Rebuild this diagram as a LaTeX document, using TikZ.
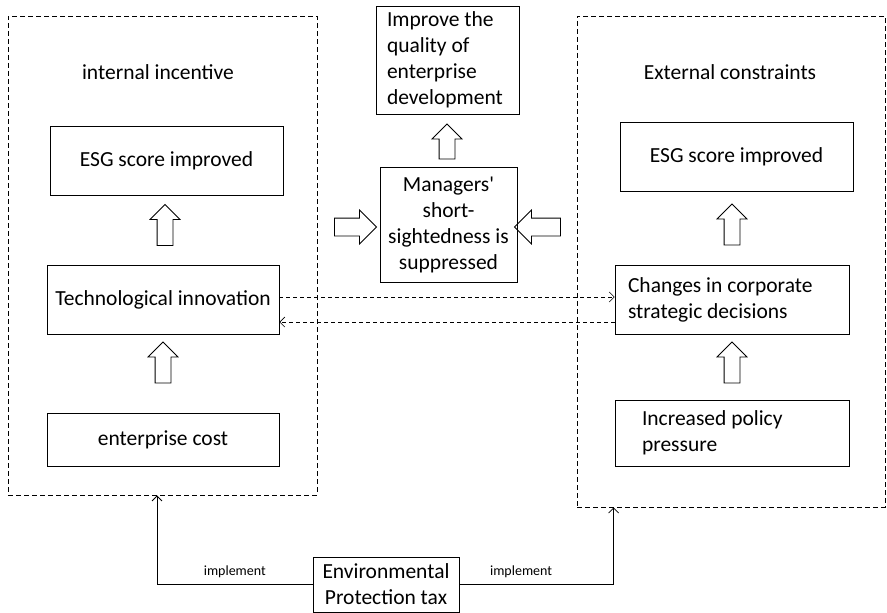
\documentclass[tikz,border=0pt]{standalone}
\usepackage{fontspec}
\setmainfont{Carlito}
\usepackage{tikz}
\usetikzlibrary{calc,positioning,shapes.arrows,arrows.meta}
\tikzset{
  box/.style={
    draw,
    rectangle,
    line width=0.8pt,
    inner sep=0pt,
    font=\fontsize{21.5}{26}\selectfont,
  },
  frame/.style={
    draw,
    rectangle,
    line width=0.8pt,
    dash pattern=on 5pt off 3pt,
    inner sep=0pt,
  },
  uparr/.style={
    single arrow,
    draw,
    line width=0.8pt,
    inner xsep=0pt,
    inner ysep=7.5pt,
    single arrow head extend=7pt,
    minimum height=41pt,
    rotate=90,
  },
  sidearr/.style={
    single arrow,
    draw,
    line width=0.8pt,
    inner xsep=0pt,
    inner ysep=8.5pt,
    single arrow head extend=8pt,
    minimum height=44pt,
  },
  dashlink/.style={line width=0.6pt, dash pattern=on 4pt off 3pt},
  implink/.style={line width=0.8pt},
  tag/.style={font=\fontsize{14}{16}\selectfont, above=3pt},
  tip/.style={-{Straight Barb[length=5pt,width=10pt]}},
}

\begin{document}
\begin{tikzpicture}[x=1pt,y=-1pt]
  \useasboundingbox (0,0) rectangle (887,613);

  % the two frames
  \node[frame, minimum width=309pt, minimum height=479pt] (frameL) at (162.5,255.5) {};
  \node[frame, minimum width=308pt, minimum height=491pt] (frameR) at (731,261.5) {};
  \node[font=\fontsize{21.5}{26}\selectfont] (headL) at (158,72) {internal incentive};
  \node[font=\fontsize{21.5}{26}\selectfont] (headR) at (730,72) {External constraints};

  % left column
  \node[box, minimum width=233pt, minimum height=69pt] (esgL) at (166.5,160.5) {ESG score improved};
  \node[box, minimum width=232pt, minimum height=69pt] (techL) at (163,299.5) {Technological innovation};
  \node[box, minimum width=232pt, minimum height=53pt] (costL) at (163,439.5) {enterprise cost};
  \node[uparr] (upL1) at (165,229) {};
  \node[uparr] (upL2) at (163,366.5) {};

  % middle
  \node[box, minimum width=143pt, minimum height=108pt, text width=121pt, align=flush left] (goal) at (447.5,60)
    {Improve the\\quality of\\enterprise\\development};
  \node[box, minimum width=137pt, minimum height=115pt, text width=135pt, align=flush center] (mgr) at (448.5,224.5)
    {Managers\textquotesingle\\short-\\sightedness is\\suppressed};
  \node[uparr, minimum height=35pt] (upM) at (447,145.5) {};
  \node[sidearr, minimum height=42pt] (inL) at (351,227) {};
  \node[sidearr, minimum height=46pt, shape border rotate=180] (inR) at (542,227) {};

  % right column
  \node[box, minimum width=233pt, minimum height=69pt] (esgR) at (736.5,156.5) {ESG score improved};
  \node[box, minimum width=234pt, minimum height=69pt, text width=208pt, align=flush left] (chgR) at (732,299.5)
    {Changes in corporate\\strategic decisions};
  \node[box, minimum width=234pt, minimum height=66pt, text width=180pt, align=flush left, xshift=10pt] (polR) at (722,433)
    {Increased policy\\pressure};
  \node[uparr] (upR1) at (732,228.5) {};
  \node[uparr] (upR2) at (732,366.5) {};

  % feedback between the columns
  \draw[dashlink, tip] ([yshift=2.5pt]techL.east) -- ([yshift=2.5pt]chgR.west);
  \draw[dashlink, tip] ([yshift=-22.5pt]chgR.west) -- ([yshift=-22.5pt]techL.east);

  % the tax
  \node[box, minimum width=146pt, minimum height=55pt, align=flush center] (tax) at (386,584.5)
    {Environmental\\Protection tax};
  \draw[implink, tip] (tax.west) -| ([xshift=-5.5pt]frameL.south)
    node[tag, pos=0.25] {implement};
  \draw[implink, tip] (tax.east) -| ([xshift=37pt]frameR.south west)
    node[tag, pos=0.2] {implement};
\end{tikzpicture}
\end{document}
